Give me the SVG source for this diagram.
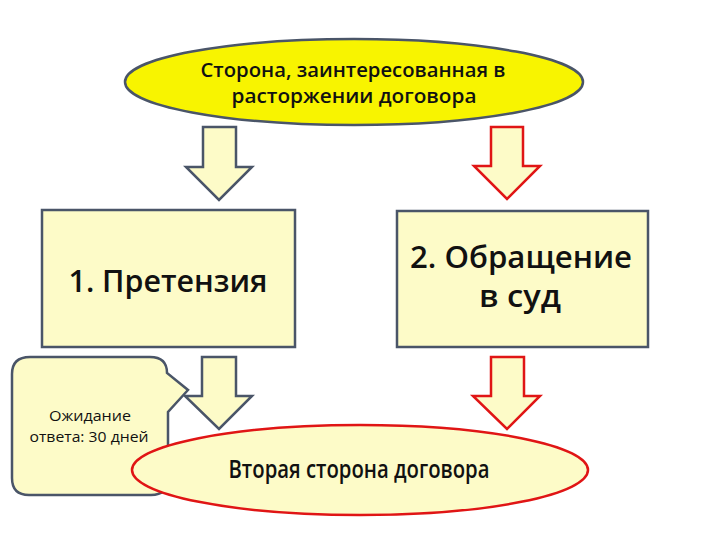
<svg xmlns="http://www.w3.org/2000/svg" width="720" height="540" viewBox="0 0 720 540">
  <style>
    .t { font-family: "Open Sans", "Noto Sans", "Liberation Sans", sans-serif; fill: #111; text-anchor: middle; }
    .b { font-weight: 600; }
    .cream { fill: #fdfbc8; }
    .blue { stroke: #4a5568; stroke-width: 2.5; stroke-linejoin: miter; }
    .red { stroke: #e01515; stroke-width: 2.5; stroke-linejoin: miter; }
  </style>
  <rect width="720" height="540" fill="#ffffff"/>

  <g id="top">
    <ellipse cx="354" cy="82" rx="229" ry="43" fill="#f8f400" class="blue"/>
    <text class="t b" x="353" y="77" font-size="20" textLength="305" lengthAdjust="spacingAndGlyphs">Сторона, заинтересованная в</text>
    <text class="t b" x="354" y="103" font-size="20" textLength="245" lengthAdjust="spacingAndGlyphs">расторжении договора</text>
  </g>

  <g id="claim">
    <rect x="42" y="210" width="253" height="137" class="cream blue"/>
    <text class="t b" x="168" y="292" font-size="31" textLength="199" lengthAdjust="spacingAndGlyphs">1. Претензия</text>
  </g>

  <g id="court">
    <rect x="397" y="211" width="251" height="136" class="cream blue"/>
    <text class="t b" x="521" y="268" font-size="30" textLength="222" lengthAdjust="spacingAndGlyphs">2. Обращение</text>
    <text class="t b" x="520" y="307" font-size="30" textLength="82" lengthAdjust="spacingAndGlyphs">в суд</text>
  </g>

  <g id="connectors">
    <path d="M203,127 H236 V167 H252 L219,200 L186,167 H203 Z" class="cream blue"/>
    <path d="M491,127 H523 V166 H540 L507,199 L474,166 H491 Z" class="cream red"/>
    <path d="M202,357 H236 V396 H252 L219,429 L185,396 H202 Z" class="cream blue"/>
    <path d="M491,357 H524 V396 H540 L507,429 L473,396 H491 Z" class="cream red"/>
  </g>

  <g id="wait">
    <path d="M30,357 H150 Q167,357 167,373 L188,390 L168,412 V478 Q168,495 151,495 H29 Q12,495 12,478 V374 Q12,357 30,357 Z" class="cream blue"/>
    <text class="t" x="90" y="421" font-size="15" textLength="82" lengthAdjust="spacingAndGlyphs">Ожидание</text>
    <text class="t" x="89" y="442" font-size="15" textLength="119" lengthAdjust="spacingAndGlyphs">ответа: 30 дней</text>
  </g>

  <g id="second">
    <ellipse cx="360" cy="470" rx="228" ry="45" class="cream red"/>
    <text class="t b" x="359" y="478" font-size="25" textLength="261" lengthAdjust="spacingAndGlyphs">Вторая сторона договора</text>
  </g>
</svg>
